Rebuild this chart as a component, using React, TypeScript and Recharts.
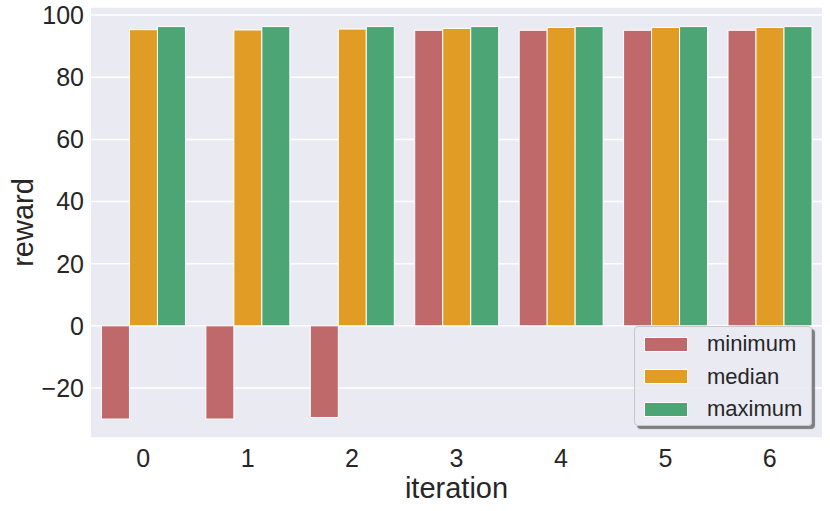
import React from "react";
import { Bar, BarChart, CartesianGrid, XAxis, YAxis } from "recharts";

const iterations = ["0", "1", "2", "3", "4", "5", "6"];
const minimum = [-30, -30, -29.5, 95.1, 95.1, 95.1, 95.1];
const median = [95.3, 95.2, 95.5, 95.7, 96.0, 96.0, 96.0];
const maximum = [96.3, 96.3, 96.3, 96.3, 96.3, 96.3, 96.3];
const yTicks = [-20, 0, 20, 40, 60, 80, 100];

const seriesNames = ["minimum", "median", "maximum"];
const seriesColors = ["#BF696B", "#E09C24", "#4BA575"];

const data = iterations.map((it, i) => ({
  iteration: it,
  minimum: minimum[i],
  median: median[i],
  maximum: maximum[i],
}));

const FONT = '"Liberation Sans", Arial, sans-serif';
const TEXT = "#262626";

const fmt = (v: number) => (v < 0 ? `\u2212${-v}` : `${v}`);

const LegendBox = () => (
  <div
    style={{
      position: "absolute",
      left: 634,
      top: 326,
      width: 178,
      height: 100,
      boxSizing: "border-box",
      background: "rgba(234,234,242,0.9)",
      border: "1px solid #c8c8cc",
      borderRadius: 4,
      boxShadow: "3px 3px 1px rgba(90,90,90,0.75)",
      padding: "1px 0 0 9px",
      fontFamily: FONT,
      fontSize: 22,
      color: TEXT,
    }}
  >
    {seriesNames.map((name, i) => (
      <div
        key={name}
        style={{ display: "flex", alignItems: "center", height: 32.5 }}
      >
        <div
          style={{
            width: 44,
            height: 15,
            background: seriesColors[i],
            border: "1px solid #fff",
            boxSizing: "border-box",
            marginRight: 19,
          }}
        />
        <span>{name}</span>
      </div>
    ))}
  </div>
);

export default function App() {
  return (
    <div
      style={{
        position: "absolute",
        left: 0,
        top: 0,
        width: 830,
        height: 511,
        background: "#fff",
      }}
    >
      <BarChart
        width={830}
        height={511}
        data={data}
        margin={{ top: 7, right: 8, left: 0, bottom: 0 }}
        barCategoryGap="10%"
        barGap={0}
      >
        <CartesianGrid
          vertical={false}
          stroke="#ffffff"
          strokeWidth={1.5}
          fill="#EAEAF2"
        />
        <XAxis
          dataKey="iteration"
          height={73}
          tickLine={false}
          axisLine={false}
          tickSize={0}
          tickMargin={11}
          tick={{ fill: TEXT, fontSize: 25, fontFamily: FONT }}
          label={{
            value: "iteration",
            position: "insideBottom",
            offset: 13,
            fill: TEXT,
            fontSize: 29,
            fontFamily: FONT,
          }}
        />
        <YAxis
          width={91}
          domain={[-36.1, 102.6]}
          allowDataOverflow
          ticks={yTicks}
          tickFormatter={fmt}
          tickLine={false}
          axisLine={false}
          tickSize={0}
          tickMargin={7}
          tick={{ fill: TEXT, fontSize: 25, fontFamily: FONT }}
          label={{
            value: "reward",
            angle: -90,
            position: "insideLeft",
            offset: 23,
            fill: TEXT,
            fontSize: 29,
            fontFamily: FONT,
            style: { textAnchor: "middle" },
          }}
        />
        {seriesNames.map((name, i) => (
          <Bar
            key={name}
            dataKey={name}
            fill={seriesColors[i]}
            stroke="#ffffff"
            strokeWidth={1}
            isAnimationActive={false}
          />
        ))}
      </BarChart>
      <LegendBox />
    </div>
  );
}
